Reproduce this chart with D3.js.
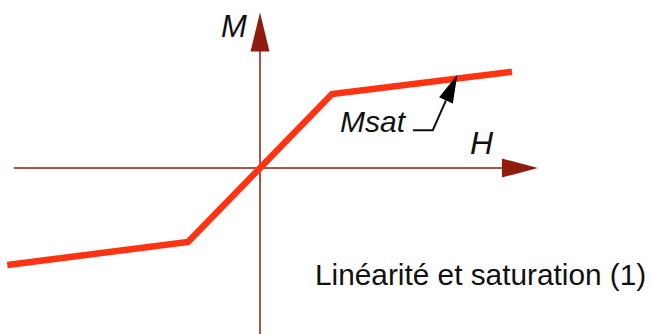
<!DOCTYPE html>
<html>
<head>
<meta charset="utf-8">
<script src="https://cdn.jsdelivr.net/npm/d3@7"></script>
<style>
  html, body { margin: 0; padding: 0; background: #fff; }
  svg { display: block; }
</style>
</head>
<body>
<div id="chart"></div>
<script>
// magnetisation curve M(H), arbitrary units
const curveH = [-3.51, -1, 0, 1, 3.5];
const curveM = [-1.31, -1, 0, 1, 1.30];

// axis extents (arbitrary units)
const hAxis = [-3.42, 3.86];
const mAxis = [-2.25, 2.1];

// leader for the "Msat" annotation
const leaderH = [2.125, 2.40, 2.74];
const leaderM = [0.51, 0.51, 1.26];

const labelM = "M";
const labelH = "H";
const labelMsat = "Msat";
const caption = "Linéarité et saturation (1)";

const width = 652, height = 334;
const svg = d3.select("#chart").append("svg")
    .attr("width", width)
    .attr("height", height);

// origin at (260,168), 72px per H unit, 74px per M unit
const x = d3.scaleLinear().domain([0, 1]).range([260, 332]);
const y = d3.scaleLinear().domain([0, 1]).range([168, 94]);

const axisColor = "#8f1c0c";

// axes lines
svg.append("line")
    .attr("x1", x(hAxis[0])).attr("x2", x(hAxis[1]) - 20)
    .attr("y1", y(0)).attr("y2", y(0))
    .attr("stroke", axisColor).attr("stroke-width", 1.5);
svg.append("line")
    .attr("x1", x(0)).attr("x2", x(0))
    .attr("y1", y(mAxis[0])).attr("y2", y(mAxis[1]) + 20)
    .attr("stroke", axisColor).attr("stroke-width", 1.5);

// arrow heads
const hTip = x(hAxis[1]), hy = y(0);
svg.append("path")
    .attr("d", `M${hTip},${hy} L${hTip - 36},${hy - 9.5} L${hTip - 36},${hy + 9.5} Z`)
    .attr("fill", axisColor);
const vTip = y(mAxis[1]), vx = x(0);
svg.append("path")
    .attr("d", `M${vx},${vTip} L${vx - 9.5},${vTip + 39} L${vx + 9.5},${vTip + 39} Z`)
    .attr("fill", axisColor);

// the curve
const pts = curveH.map((h, i) => [h, curveM[i]]);
svg.append("path")
    .datum(pts)
    .attr("d", d3.line().x(d => x(d[0])).y(d => y(d[1])))
    .attr("fill", "none")
    .attr("stroke", "#ff3212")
    .attr("stroke-width", 6.5)
    .attr("stroke-linejoin", "miter");

// Msat leader + arrow
const lp = leaderH.map((h, i) => [x(h), y(leaderM[i])]);
const tip = lp[2], prev = lp[1];
const dx = tip[0] - prev[0], dy = tip[1] - prev[1];
const len = Math.hypot(dx, dy);
const ux = dx / len, uy = dy / len;
const headLen = 28, headW = 7.5;
const bx = tip[0] - ux * headLen, by = tip[1] - uy * headLen;
svg.append("path")
    .attr("d", `M${lp[0][0]},${lp[0][1]} L${lp[1][0]},${lp[1][1]} L${bx},${by}`)
    .attr("fill", "none")
    .attr("stroke", "#111")
    .attr("stroke-width", 2);
svg.append("path")
    .attr("d", `M${tip[0]},${tip[1]} L${bx - uy * headW},${by + ux * headW} L${bx + uy * headW},${by - ux * headW} Z`)
    .attr("fill", "#000");

// labels
const fam = "'Liberation Sans', Arial, sans-serif";
svg.append("text")
    .attr("x", 221).attr("y", 37)
    .attr("font-family", fam).attr("font-size", 31)
    .attr("font-style", "italic").attr("fill", "#111")
    .text(labelM);
svg.append("text")
    .attr("x", 470).attr("y", 154)
    .attr("font-family", fam).attr("font-size", 32)
    .attr("font-style", "italic").attr("fill", "#111")
    .text(labelH);
svg.append("text")
    .attr("x", 340).attr("y", 132)
    .attr("font-family", fam).attr("font-size", 30)
    .attr("font-style", "italic").attr("fill", "#111")
    .text(labelMsat);
svg.append("text")
    .attr("x", 315).attr("y", 285)
    .attr("font-family", fam)
    .attr("font-size", 29.8)
    .attr("fill", "#111")
    .text(caption);
</script>
</body>
</html>
